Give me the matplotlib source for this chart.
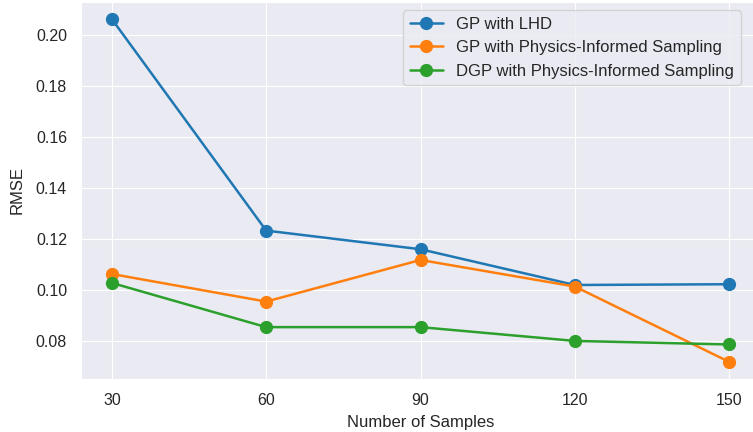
import matplotlib.pyplot as plt
import seaborn as sns

samples = [30, 60, 90, 120, 150]
gp_lhd = [0.2061, 0.1233, 0.1160, 0.1020, 0.1023]
gp_pis = [0.1063, 0.0955, 0.1118, 0.1014, 0.0719]
dgp_pis = [0.1028, 0.0855, 0.0855, 0.0801, 0.0787]
labels = ['GP with LHD', 'GP with Physics-Informed Sampling',
          'DGP with Physics-Informed Sampling']


def main():
    sns.set_style('darkgrid')
    plt.rcParams['font.family'] = ['Liberation Sans', 'DejaVu Sans']
    fig = plt.figure(figsize=(7.53, 4.32), dpi=100)
    ax = fig.add_axes([81 / 753, 53 / 432, 679 / 753, 377 / 432])
    for vals, lab in zip([gp_lhd, gp_pis, dgp_pis], labels):
        ax.plot(samples, vals, marker='o', markersize=8.5, linewidth=1.8, label=lab)
    ax.set_xticks(samples)
    ax.set_xlabel('Number of Samples', fontsize=12, labelpad=5)
    ax.set_ylabel('RMSE', fontsize=12, labelpad=8)
    ax.tick_params(labelsize=11.5, pad=6.5)
    ax.legend(loc='upper right', bbox_to_anchor=(0.984, 1.0), fontsize=12)
    fig.savefig('out.png')


if __name__ == '__main__':
    main()
